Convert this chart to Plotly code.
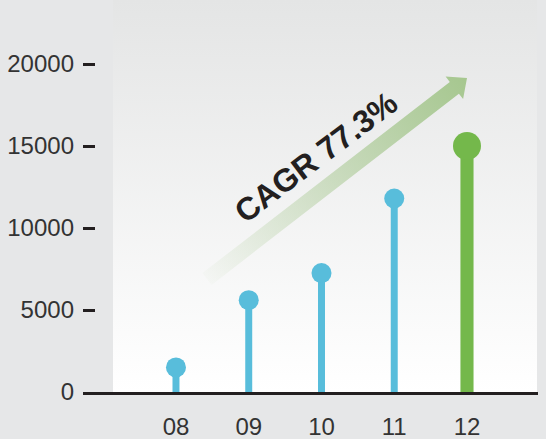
import base64
import math
import plotly.graph_objects as go

# ---- data ----
years = ["08", "09", "10", "11", "12"]
values = [1500, 5600, 7250, 11800, 15000]
bar_colors = ["#58bddb", "#58bddb", "#58bddb", "#58bddb", "#74b84b"]
bar_widths = [0.096, 0.096, 0.096, 0.096, 0.18]
dot_sizes = [20, 20, 20, 20, 28]
y_ticks = [0, 5000, 10000, 15000, 20000]
y_tick_labels = ["0", "5000", "10000", "15000", "20000"]
cagr_label = "CAGR 77.3%"

W, H = 546, 439
ML, MR, MT, MB = 83, 8, 30, 47
PW, PH = W - ML - MR, H - MT - MB

# ---- decorative background + gradient arrow as SVG ----
T = (207.0, 279.0)
P = (467.0, 78.0)
dx, dy = P[0] - T[0], P[1] - T[1]
L = math.hypot(dx, dy)
ux, uy = dx / L, dy / L
nx, ny = -uy, ux
hw, hh, hl = 7.5, 14.3, 16.0
B = (P[0] - ux * hl, P[1] - uy * hl)
pts = [
    (T[0] + nx * hw, T[1] + ny * hw),
    (B[0] + nx * hw, B[1] + ny * hw),
    (B[0] + nx * hh, B[1] + ny * hh),
    P,
    (B[0] - nx * hh, B[1] - ny * hh),
    (B[0] - nx * hw, B[1] - ny * hw),
    (T[0] - nx * hw, T[1] - ny * hw),
]
pts_s = " ".join(f"{x:.1f},{y:.1f}" for x, y in pts)

svg = f'''<svg xmlns="http://www.w3.org/2000/svg" width="{W}" height="{H}" viewBox="0 0 {W} {H}">
<defs>
<linearGradient id="bg" x1="0" y1="0" x2="0" y2="1">
<stop offset="0" stop-color="#e4e5e5"/>
<stop offset="1" stop-color="#ffffff"/>
</linearGradient>
<linearGradient id="ar" gradientUnits="userSpaceOnUse" x1="{T[0]}" y1="{T[1]}" x2="{P[0]}" y2="{P[1]}">
<stop offset="0" stop-color="#a6c78f" stop-opacity="0.04"/>
<stop offset="1" stop-color="#a6c78f" stop-opacity="1"/>
</linearGradient>
</defs>
<rect x="0" y="0" width="{W}" height="{H}" fill="#e6e7e8"/>
<rect x="113" y="0" width="424" height="392" fill="url(#bg)"/>
<polygon points="{pts_s}" fill="url(#ar)"/>
</svg>'''
src = "data:image/svg+xml;base64," + base64.b64encode(svg.encode()).decode()

fig = go.Figure()
fig.add_trace(go.Bar(
    x=list(range(len(years))), y=values, width=bar_widths,
    marker=dict(color=bar_colors, line=dict(width=0)),
    hoverinfo="skip",
))
fig.add_trace(go.Scatter(
    x=list(range(len(years))), y=values, mode="markers",
    marker=dict(color=bar_colors, size=dot_sizes, opacity=1, line=dict(width=0)),
    hoverinfo="skip",
))

y_top = 22073
fig.update_layout(
    width=W, height=H,
    margin=dict(l=ML, r=MR, t=MT, b=MB, pad=0),
    paper_bgcolor="#e6e7e8",
    plot_bgcolor="rgba(0,0,0,0)",
    showlegend=False,
    font=dict(family="Liberation Sans, Arial, sans-serif", size=24, color="#333333"),
    images=[dict(
        source=src, xref="paper", yref="paper",
        x=-ML / PW, y=1 + MT / PH, sizex=W / PW, sizey=H / PH,
        xanchor="left", yanchor="top", sizing="stretch", layer="below",
    )],
    xaxis=dict(
        range=[-1.278, 4.976], tickmode="array",
        tickvals=list(range(len(years))), ticktext=years,
        showgrid=False, zeroline=False, showline=True, linewidth=3,
        linecolor="#231f20", ticks="", ticklabelstandoff=11,
        fixedrange=True, automargin=False,
    ),
    yaxis=dict(
        range=[0, y_top], tickmode="array", tickvals=y_ticks, ticktext=y_tick_labels,
        showgrid=False, zeroline=False, showline=False,
        ticks="inside", ticklen=12, tickwidth=3, tickcolor="#231f20",
        ticklabelstandoff=8, fixedrange=True, automargin=False,
    ),
    annotations=[dict(
        text=f"<b>{cagr_label}</b>", xref="paper", yref="paper",
        x=(316 - ML) / PW, y=1 - (157 - MT) / PH,
        showarrow=False, textangle=-37,
        font=dict(family="Liberation Sans, Arial, sans-serif", size=32, color="#231f20"),
        xanchor="center", yanchor="middle",
    )],
)

fig.write_html("out.html")
